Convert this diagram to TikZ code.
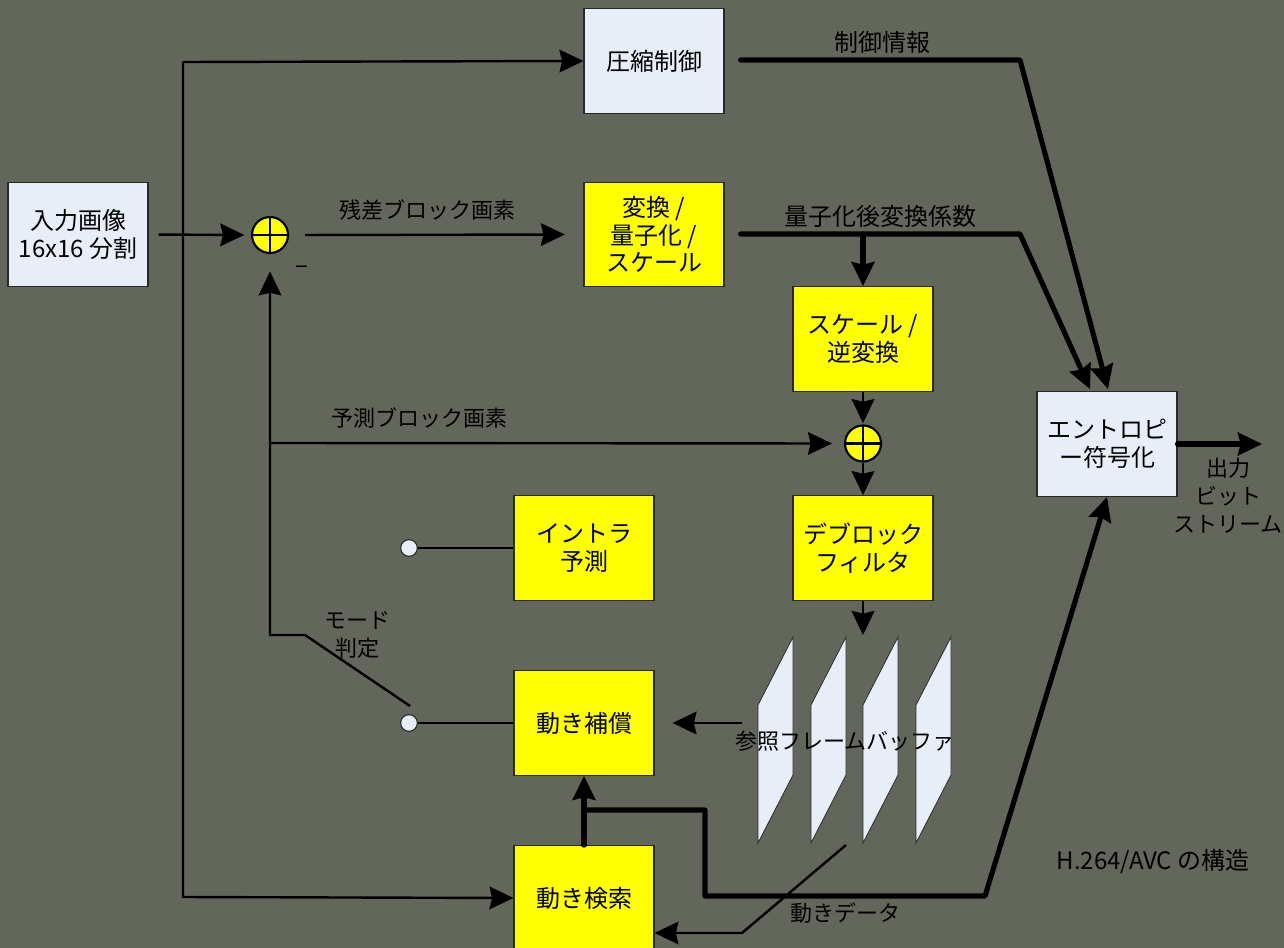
\documentclass[tikz,border=0pt]{standalone}
\usepackage{fontspec}
\setmainfont{Noto Sans CJK JP}
\usetikzlibrary{arrows.meta,calc}
\definecolor{bgc}{RGB}{99,102,90}
\definecolor{boxw}{RGB}{232,238,248}
\definecolor{boxy}{RGB}{255,255,0}
\definecolor{edge}{RGB}{40,40,40}
\begin{document}
\begin{tikzpicture}[x=0.75pt,y=-0.75pt,
  blk/.style={draw=edge,line width=0.8pt,minimum width=105pt,minimum height=78.5pt,align=center,font=\fontsize{18pt}{20.8pt}\selectfont,inner sep=2pt},
  wbox/.style={blk,fill=boxw},
  ybox/.style={blk,fill=boxy},
  adder/.style={circle,draw=black,line width=1.6pt,fill=boxy,minimum size=27pt,inner sep=0pt,
    path picture={\draw[line width=1.6pt] (path picture bounding box.north) -- (path picture bounding box.south)
      (path picture bounding box.west) -- (path picture bounding box.east);}},
  sw/.style={circle,draw=edge,line width=0.8pt,fill=boxw,minimum size=12.5pt,inner sep=0pt},
  thin/.style={line width=1.8pt,black},
  thick/.style={line width=3.8pt,black,line join=round,line cap=round},
  arr/.style={-{Stealth[length=18pt,width=17pt,inset=2pt]}},
  lbl/.style={font=\fontsize{16.5pt}{21pt}\selectfont,align=center,inner sep=0pt},
  lblb/.style={font=\fontsize{18pt}{21pt}\selectfont,align=center,inner sep=0pt},
  frame/.style={draw=edge,line width=0.6pt,fill=boxw}
]
\useasboundingbox[fill=bgc] (0,0) rectangle (1284,948);

% boxes
\node[wbox] (in) at (78,234.5) {入力画像\\16x16 分割};
\node[wbox] (comp) at (654,61) {圧縮制御};
\node[ybox] (tq) at (654,234.5) {変換 /\\量子化 /\\スケール};
\node[ybox] (sit) at (863,339) {スケール /\\逆変換};
\node[ybox] (dbf) at (863,548) {デブロック\\フィルタ};
\node[ybox] (intra) at (584,548) {イントラ\\予測};
\node[ybox] (mc) at (584,723) {動き補償};
\node[ybox] (me) at (584,898) {動き検索};
\node[wbox] (ent) at (1107,444) {エントロピ\\ー符号化};

% adders and switch contacts
\node[adder] (add1) at (270,235) {};
\node[adder] (add2) at (863,443.5) {};
\node[sw] (c1) at (409,548) {};
\node[sw] (c2) at (409,723) {};

% reference frame buffer
\foreach \dx in {0,53,105,158}{
  \draw[frame] (758+\dx,705) -- (793+\dx,637) -- (793+\dx,775) -- (758+\dx,843) -- cycle;
}
\node[lbl] (buflbl) at (845,741) {参照フレームバッファ};

% coordinates
\coordinate (vt) at (183,62);
\coordinate (vb) at (183,897);
\coordinate (fb) at (270,635);
\coordinate (fk) at (305,635);
\coordinate (swe) at (410,706);
\coordinate (pj) at (270,443);
\coordinate (c1top) at (1020,60);
\coordinate (c2top) at (1020,234);
\coordinate (qj) at (863,234);
\coordinate (bufin) at (863,635);
\coordinate (bufl) at (742,723);
\coordinate (mj) at (584,810);
\coordinate (mk) at (705,810);
\coordinate (ml) at (705,896);
\coordinate (mm) at (985,896);
\coordinate (md1) at (846,845);
\coordinate (md2) at (742,933);
\coordinate (outend) at (1262,444);

% thin connectors
\draw[thin,arr,shorten <=7.5pt,shorten >=5pt] (in.east) -- (add1.west);
\draw[thin,arr] (vt) -- (comp.west);
\draw[thin,arr] (vt) -- (vb) -- (me.west);
\draw[thin,arr,shorten <=12pt,shorten >=14pt] (add1.east) -- node[lbl,above=10pt,pos=0.47]{残差ブロック画素} (tq.west);
\draw[thin,arr,shorten >=13pt] (swe) -- (fk) -- (fb) -- (add1.south);
\draw[thin,arr,shorten >=9pt] (pj) -- node[lbl,above=10pt,pos=0.26]{予測ブロック画素} (add2.west);
\draw[thin] (c1.east) -- (intra.west);
\draw[thin] (c2.east) -- (mc.west);
\draw[thin,arr,shorten >=1pt] (sit.south) -- (add2.north);
\draw[thin,arr] (add2.south) -- (dbf.north);
\draw[thin,arr] (dbf.south) -- (bufin);
\draw[thin,arr,shorten >=13.5pt] (bufl) -- (mc.east);
\draw[thin,arr] (md1) -- (md2) -- (me.east |- md2);

% thick connectors
\draw[thick,arr,shorten <=12pt] (comp.east |- c1top) -- (c1top) -- ($(ent.north)+(1,-2)$);
\node[lblb] at (882,42) {制御情報};
\draw[thick,arr,shorten <=12pt] (tq.east |- c2top) -- (c2top) -- ($(ent.north)+(-17,-2)$);
\node[lblb] at (880,216) {量子化後変換係数};
\draw[thick,arr] (qj) -- (sit.north);
\draw[thick,arr] (me.north) -- (mc.south);
\draw[thick,arr] (mj) -- (mk) -- (ml) -- (mm) -- (ent.south);
\draw[thick,arr] (ent.east) -- (outend);

% labels
\node[lbl] at (302,270) {\fontsize{18pt}{18pt}\selectfont –};
\node[lbl] at (357,635) {モード\\判定};
\node[lbl] at (845,913) {動きデータ};
\node[lbl] at (1228,496) {出力\\ビット\\ストリーム};
\node[lbl,font=\fontsize{18pt}{20pt}\selectfont] at (1153,862) {H.264/AVC の構造};
\end{tikzpicture}
\end{document}
